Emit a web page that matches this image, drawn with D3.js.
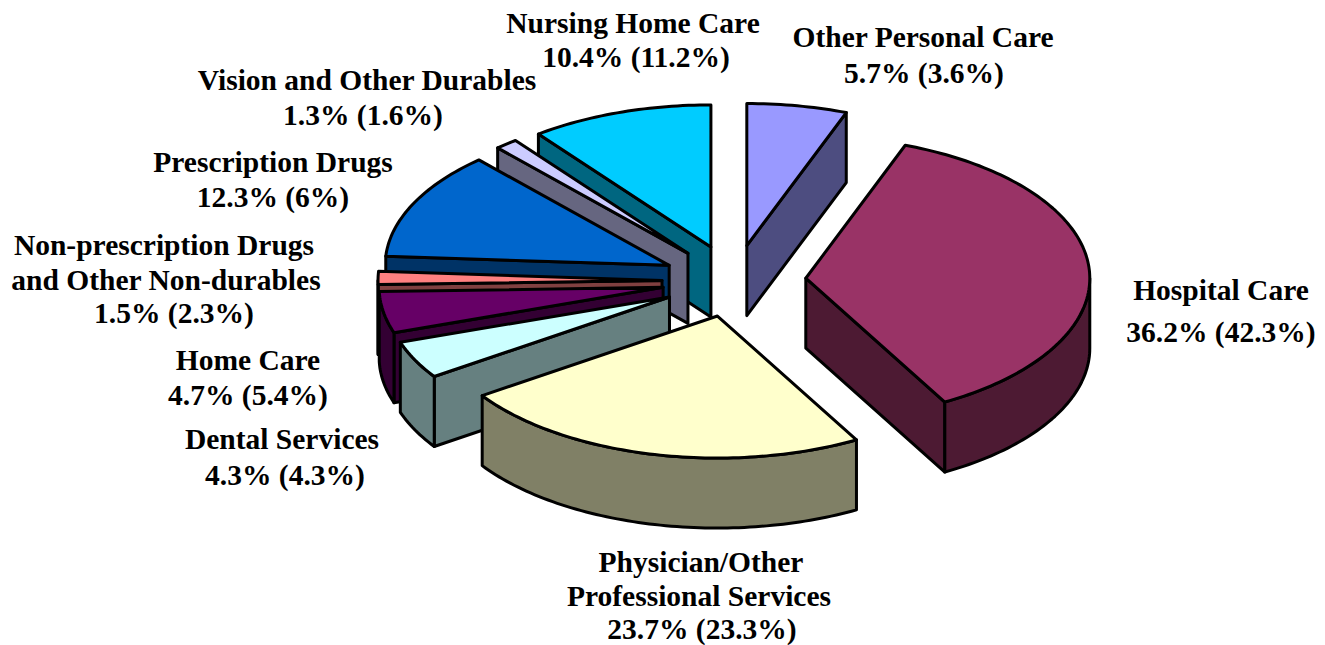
<!DOCTYPE html>
<html>
<head>
<meta charset="utf-8">
<script src="https://cdn.jsdelivr.net/npm/d3@7"></script>
<style>
  html, body { margin: 0; padding: 0; background: #fff; }
  svg { display: block; }
  text { font-family: "Liberation Serif", "Times New Roman", serif; font-weight: bold; font-size: 29.5px; fill: #000; }
</style>
</head>
<body>
<div id="chart"></div>
<script>
const categories = ['Other Personal Care', 'Hospital Care', 'Physician/Other Professional Services', 'Dental Services',
  'Home Care', 'Non-prescription Drugs and Other Non-durables', 'Prescription Drugs', 'Vision and Other Durables', 'Nursing Home Care']
const share = [5.7, 36.2, 23.7, 4.3, 4.7, 1.5, 12.3, 1.3, 10.4]
const shareOther = ['3.6%', '42.3%', '23.3%', '4.3%', '5.4%', '2.3%', '6%', '1.6%', '11.2%']
const nameLines = [
  ['Other Personal Care'], ['Hospital Care'], ['Physician/Other', 'Professional Services'], ['Dental Services'],
  ['Home Care'], ['Non-prescription Drugs', 'and Other Non-durables'], ['Prescription Drugs'],
  ['Vision and Other Durables'], ['Nursing Home Care']
]
const topColors = ['#9999FF', '#993366', '#FFFFCC', '#CCFFFF', '#660066', '#FF8080', '#0066CC', '#CCCCFF', '#00CCFF']
const sideColors = ['#4D4D80', '#4D1A33', '#808066', '#668080', '#330033', '#804040', '#003366', '#666680', '#006680']

// label layout: one centre x and one baseline per line
const labelX = [
  [923, 924], [1221, 1221], [701, 699, 702], [282, 285],
  [248, 248], [164, 166, 174], [273, 273], [367, 363], [633, 636]
]
const labelY = [
  [47, 83], [300, 342], [572, 606, 639], [449, 485],
  [370, 405], [255, 290, 323], [172, 207], [90, 125], [33, 67]
]

const width = 1325, height = 645
const center = { x: 734, y: 281 }
const rx = 284, ry = 142, depth = 70, explode = 72

const sx = d3.scaleLinear().domain([-1, 1]).range([-rx, rx])
const sy = d3.scaleLinear().domain([-1, 1]).range([-ry, ry])

const pie = d3.pie().sort(null).value(d => d).startAngle(0).endAngle(2 * Math.PI)
const line = d3.line().x(d => d[0]).y(d => d[1])

// angle 0 is 12 o'clock, clockwise
const rim = (a, ox, oy) => [ox + sx(Math.sin(a)), oy + sy(-Math.cos(a))]

function arcPoints(a0, a1, ox, oy) {
  const n = Math.max(2, Math.ceil((a1 - a0) / 0.02))
  return d3.range(n + 1).map(i => rim(a0 + (a1 - a0) * i / n, ox, oy))
}

const slices = pie(share).map((d, i) => {
  const mid = (d.startAngle + d.endAngle) / 2
  return {
    i, a0: d.startAngle, a1: d.endAngle,
    ox: center.x + explode * Math.sin(mid),
    oy: center.y - explode * 0.5 * Math.cos(mid)
  }
})

const svg = d3.select('#chart').append('svg')
  .attr('width', width)
  .attr('height', height)

const draw = (g, pts, fill) => g.append('path')
  .attr('d', line(pts) + 'Z')
  .attr('fill', fill)
  .attr('stroke', '#000')
  .attr('stroke-width', 3)
  .attr('stroke-linejoin', 'round')

// back to front, ordered by the apex height on screen
const ordered = slices.slice().sort((a, b) => a.oy - b.oy)

const marks = svg.append('g').selectAll('g')
  .data(ordered)
  .enter().append('g')
  .attr('class', 'slice')
  .attr('data-name', d => categories[d.i])

marks.each(function(d) {
  const g = d3.select(this)
  const apex = [d.ox, d.oy]
  const side = sideColors[d.i]

  // radial walls, only the ones facing the viewer
  const walls = []
  if (Math.sin(d.a0) < -1e-6) walls.push(d.a0)
  if (Math.sin(d.a1) > 1e-6) walls.push(d.a1)
  walls.forEach(a => {
    const p = rim(a, d.ox, d.oy)
    draw(g, [apex, p, [p[0], p[1] + depth], [apex[0], apex[1] + depth]], side)
  })

  // outer wall, only the front half of the rim shows
  const from = Math.max(d.a0, Math.PI / 2)
  const to = Math.min(d.a1, 3 * Math.PI / 2)
  if (to > from) {
    const upper = arcPoints(from, to, d.ox, d.oy)
    const lower = upper.map(p => [p[0], p[1] + depth]).reverse()
    draw(g, upper.concat(lower), side)
  }

  draw(g, [apex].concat(arcPoints(d.a0, d.a1, d.ox, d.oy)), topColors[d.i])
})

// labels
const labels = svg.append('g').selectAll('text')
  .data(categories)
  .enter().append('text')
  .attr('text-anchor', 'middle')

labels.each(function(d, i) {
  const lines = nameLines[i].concat([share[i] + '% (' + shareOther[i] + ')'])
  d3.select(this).selectAll('tspan')
    .data(lines)
    .enter().append('tspan')
    .attr('x', (t, j) => labelX[i][j])
    .attr('y', (t, j) => labelY[i][j])
    .text(t => t)
})
</script>
</body>
</html>
